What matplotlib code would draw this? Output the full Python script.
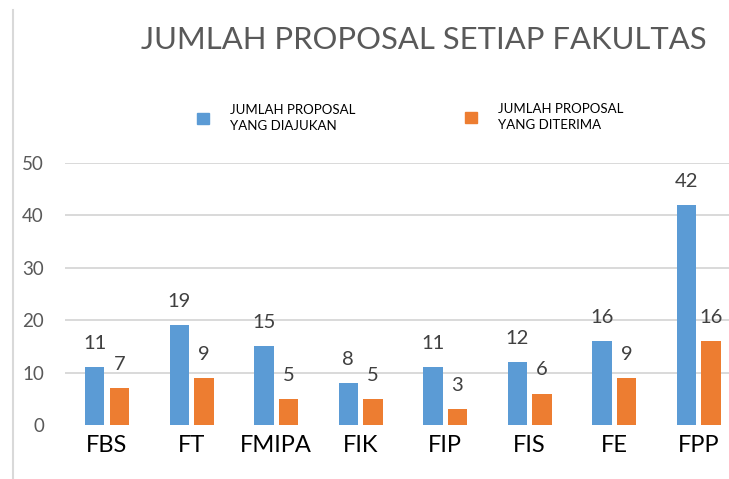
# jumlah proposal per fakultas, grouped bars

import numpy as np
import matplotlib
matplotlib.use('Agg')
import matplotlib.pyplot as plt
from matplotlib.patches import Patch
from matplotlib.lines import Line2D

fakultas = ['FBS', 'FT', 'FMIPA', 'FIK', 'FIP', 'FIS', 'FE', 'FPP']
diajukan = [11, 19, 15, 8, 11, 12, 16, 42]
diterima = [7, 9, 5, 5, 3, 6, 9, 16]
label_diajukan = 'JUMLAH PROPOSAL\nYANG DIAJUKAN'
label_diterima = 'JUMLAH PROPOSAL\nYANG DITERIMA'
judul = 'JUMLAH PROPOSAL SETIAP FAKULTAS'

BLUE = '#5B9BD5'
ORANGE = '#ED7D31'
GREY = '#595959'


def legend_item(fig, color, label, x, y):
    # one legend entry, handle's left edge at (x, y) in figure coords
    fs = 9.5
    leg = fig.legend([Patch(color=color)], [label], loc='center left',
                     bbox_to_anchor=(x, y), frameon=False, fontsize=fs,
                     borderpad=0, borderaxespad=0,
                     handlelength=12 / (fs * 100 / 72), handleheight=12 / (fs * 100 / 72),
                     handletextpad=1.6, labelcolor='black')
    for t in leg.get_texts():
        t.set_linespacing(1.45)
    return leg


def main():
    plt.rcParams['font.family'] = ['Lato', 'DejaVu Sans']
    fig = plt.figure(figsize=(7.29, 4.79), dpi=100)
    ax = fig.add_axes([0.0888, 0.1127, 0.9277, 0.547])

    x = np.arange(len(fakultas))
    w = 0.23
    b1 = ax.bar(x - 0.145, diajukan, w, color=BLUE, zorder=3)
    b2 = ax.bar(x + 0.145, diterima, w, color=ORANGE, zorder=3)

    # data labels above bars
    for bars in (b1, b2):
        for r in bars:
            ax.annotate(str(int(r.get_height())),
                        (r.get_x() + r.get_width() / 2, r.get_height()),
                        xytext=(0, 17), textcoords='offset points',
                        ha='center', va='center', fontsize=14.5, color='#404040')

    ax.set_xlim(-0.5, len(fakultas) - 0.5)
    ax.set_ylim(0, 50)
    ax.set_yticks(range(0, 51, 10))
    ax.set_xticks(x)
    ax.set_xticklabels(fakultas, fontsize=17, color='black')
    ax.tick_params(axis='y', length=0, pad=15, labelsize=13.5, labelcolor=GREY)
    ax.tick_params(axis='x', length=0, pad=7)
    for s in ax.spines.values():
        s.set_visible(False)
    ax.grid(axis='y', color='#d9d9d9', linewidth=1.4, zorder=0)
    ax.yaxis.get_gridlines()[0].set_visible(False)

    # title, shrunk to the width it has in the original (~565 px)
    title = fig.text(424 / 729, 1 - 40 / 479, judul, ha='center', va='center',
                     fontsize=24, color=GREY)
    r = fig.canvas.get_renderer()
    tw = title.get_window_extent(r).width
    title.set_fontsize(24 * 565 / tw)

    legend_item(fig, BLUE, label_diajukan, 197 / 729, 1 - 118 / 479)
    legend_item(fig, ORANGE, label_diterima, 465 / 729, 1 - 117 / 479)

    # left border fragment
    fig.add_artist(Line2D([0.018, 0.018], [0.0, 0.98], color='#d9d9d9',
                          linewidth=1.5, transform=fig.transFigure))

    fig.savefig('out.png', dpi=100)


main()
